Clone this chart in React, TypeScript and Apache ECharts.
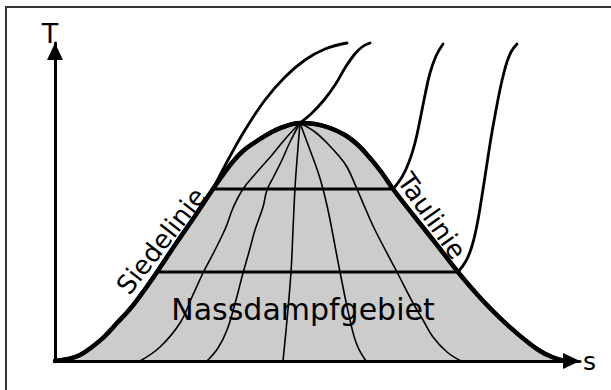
import { useEffect, useRef } from "react";
import * as echarts from "echarts";

const FONT = "DejaVu Sans";

// Entropy s and temperature T of each curve, in drawing units (origin at the axes' corner).
// Two-phase dome: boiling line (Siedelinie) rising to the critical point, dew line (Taulinie) falling.
const domeCurve: [number, number][] = [
  [0, 0], [13, 2], [25, 6], [37, 14], [49, 24], [62, 38], [75, 52], [88, 69],
  [102, 89], [120, 116], [140, 145], [158, 172], [167, 185], [176, 197], [188, 210],
  [202, 220], [215, 228], [228, 234], [245, 238], [260, 237], [275, 233], [290, 226],
  [303, 216], [315, 203], [327, 188], [338, 172], [359, 145], [382, 116], [403, 89],
  [420, 69], [432, 56], [445, 43], [457, 32], [470, 21], [485, 10], [497, 4], [510, 0],
];

// Lines of constant vapour quality, fanning out from the critical point
const qualityLine1: [number, number][] = [
  [245, 238], [231, 223], [217, 206], [202, 189], [188, 172], [178, 153], [171, 134],
  [160, 111], [148, 88], [137, 64], [125, 38], [105, 14], [85, 0],
];
const qualityLine2: [number, number][] = [
  [245, 238], [235, 219], [227, 201], [219, 185], [212, 171], [208, 154], [200, 131],
  [194, 109], [188, 88], [181, 61], [172, 31], [163, 13], [152, 0],
];
const qualityLine3: [number, number][] = [
  [245, 238], [242, 201], [240, 173], [238, 131], [236, 89], [232, 41], [228, 0],
];
const qualityLine4: [number, number][] = [
  [245, 238], [255, 211], [263, 189], [268, 172], [273, 151], [277, 131], [285, 89],
  [295, 41], [302, 16], [311, 0],
];
const qualityLine5: [number, number][] = [
  [245, 238], [260, 229], [272, 218], [283, 206], [292, 194], [302, 172], [311, 151],
  [320, 131], [342, 89], [358, 58], [368, 41], [378, 24], [392, 9], [406, 0],
];

// Isobars inside the dome (constant T during evaporation)
const isobarUpper: [number, number][] = [[158, 172], [338, 172]];
const isobarLower: [number, number][] = [[102, 89], [403, 89]];

// Isobars continuing into the superheated region
const isobarA: [number, number][] = [
  [158, 172], [173, 201], [190, 231], [210, 261], [230, 284], [250, 301], [270, 312], [292, 318],
];
const isobarB: [number, number][] = [
  [245, 238], [257, 248], [269, 261], [280, 276], [290, 293], [299, 306], [307, 314], [315, 318],
];
const isobarC: [number, number][] = [
  [338, 172], [347, 184], [354, 199], [360, 218], [365, 241], [370, 266], [375, 288],
  [381, 305], [388, 317],
];
const isobarD: [number, number][] = [
  [403, 89], [411, 100], [417, 115], [422, 136], [426, 159], [431, 191], [436, 223],
  [441, 251], [446, 276], [451, 296], [456, 309], [462, 317],
];

// Region and line names: [s, T, text, rotation in degrees, font size]
const annotations: [number, number, string, number, number][] = [
  [106, 120, "Siedelinie", 52, 26],
  [377, 145, "Taulinie", -55, 26],
  [248, 52, "Nassdampfgebiet", 0, 30],
];

const S_MAX = 525;
const T_MAX = 318;

function curve(data: [number, number][], width: number, extra: object = {}) {
  return {
    type: "line",
    data,
    smooth: 0.4,
    symbol: "none",
    clip: false,
    silent: true,
    lineStyle: { color: "#000", width, cap: "round", join: "round" },
    ...extra,
  };
}

export default function App() {
  const ref = useRef<HTMLDivElement>(null);

  useEffect(() => {
    const chart = echarts.init(ref.current!, null, { renderer: "svg" });
    const axisCommon = {
      type: "value",
      z: 10,
      axisTick: { show: false },
      axisLabel: { show: false },
      splitLine: { show: false },
      axisLine: {
        show: true,
        onZero: false,
        symbol: ["none", "triangle"],
        symbolSize: [16, 17],
        symbolOffset: [0, -8.5],
        lineStyle: { color: "#000", width: 3 },
      },
      nameTextStyle: { fontFamily: FONT, color: "#000" },
    };

    chart.setOption({
      animation: false,
      backgroundColor: "#fff",
      grid: { left: 55, top: 361 - T_MAX, width: S_MAX, height: T_MAX },
      xAxis: {
        ...axisCommon,
        min: 0,
        max: S_MAX,
        name: "s",
        nameLocation: "end",
        nameGap: 3,
        nameTextStyle: { ...axisCommon.nameTextStyle, fontSize: 25, align: "left", verticalAlign: "middle", padding: [0, 0, 6, 0] },
      },
      yAxis: {
        ...axisCommon,
        min: 0,
        max: T_MAX,
        name: "T",
        nameLocation: "end",
        nameGap: -4,
        nameTextStyle: { ...axisCommon.nameTextStyle, fontSize: 27, align: "center", verticalAlign: "bottom", padding: [0, 10, 0, 0] },
      },
      graphic: [
        {
          type: "polyline",
          silent: true,
          shape: { points: [[6, 390], [6, 7], [611, 7]] },
          style: { stroke: "#333", lineWidth: 2, fill: "none" },
          z: 100,
        },
      ],
      series: [
        curve(domeCurve, 4, {
          z: 2,
          areaStyle: { color: "#cccccc", opacity: 1 },
        }),
        curve(qualityLine1, 1.6, { z: 3 }),
        curve(qualityLine2, 1.6, { z: 3 }),
        curve(qualityLine3, 1.6, { z: 3 }),
        curve(qualityLine4, 1.6, { z: 3 }),
        curve(qualityLine5, 1.6, { z: 3 }),
        curve(isobarUpper, 3, { z: 4, smooth: false }),
        curve(isobarLower, 3, { z: 4, smooth: false }),
        curve(isobarA, 2.8, { z: 4 }),
        curve(isobarB, 2.8, { z: 4 }),
        curve(isobarC, 2.8, { z: 4 }),
        curve(isobarD, 2.8, { z: 4 }),
        curve(domeCurve, 4.5, { z: 5 }),
        {
          type: "scatter",
          silent: true,
          z: 6,
          symbolSize: 0,
          itemStyle: { opacity: 1 },
          data: annotations.map(([s, t, text, rot, size]) => ({
            value: [s, t],
            label: {
              show: true,
              position: "inside",
              formatter: text,
              rotate: rot,
              fontSize: size,
              fontFamily: FONT,
              color: "#000",
              opacity: 1,
              textBorderWidth: 0,
              align: "center",
              verticalAlign: "middle",
            },
          })),
        },
      ],
    });
    return () => chart.dispose();
  }, []);

  return (
    <div
      ref={ref}
      style={{ position: "fixed", left: 0, top: 0, width: 611, height: 390 }}
    />
  );
}
